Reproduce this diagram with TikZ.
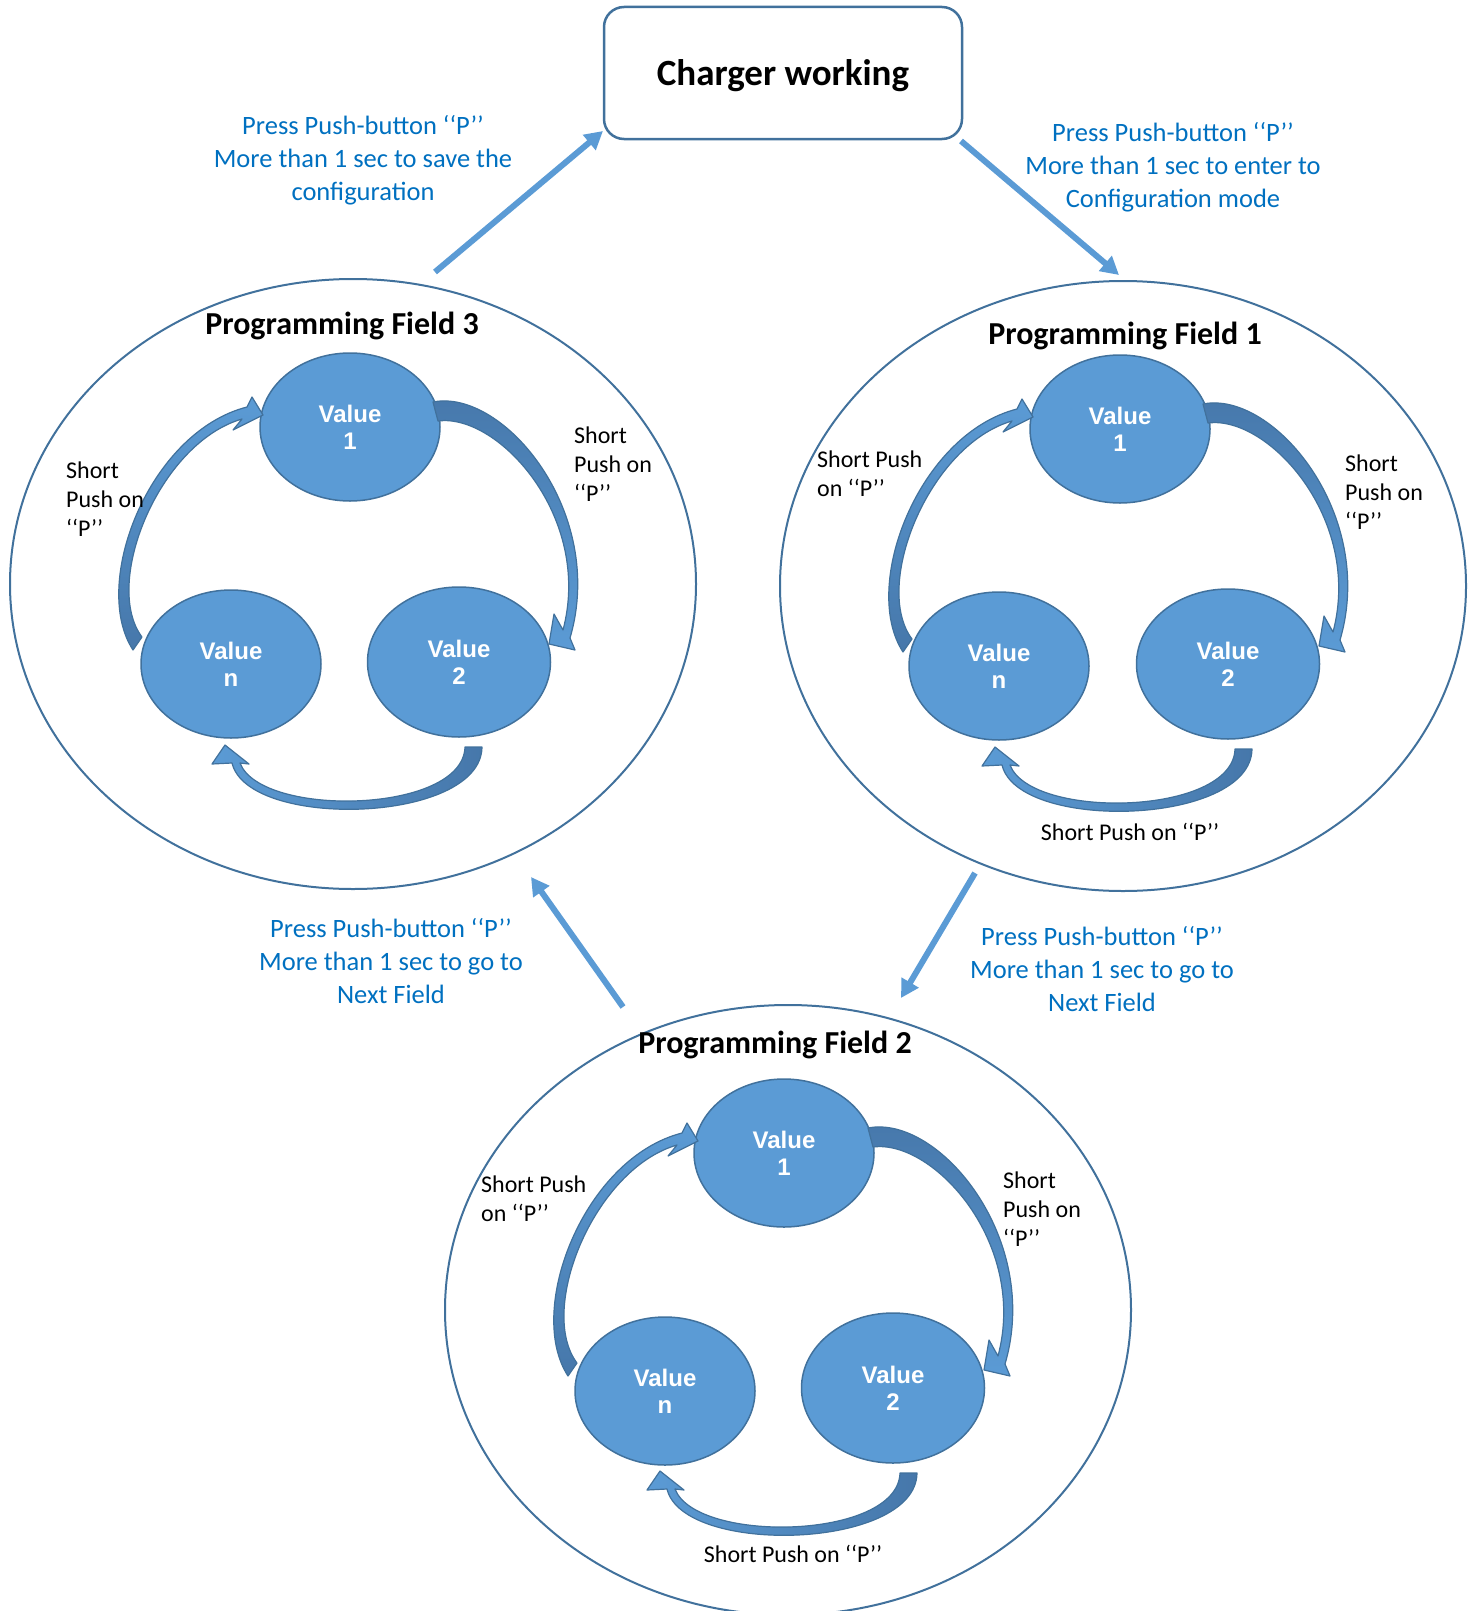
\documentclass[tikz,border=0pt]{standalone}
\usepackage{fontspec}
\setmainfont{Carlito}
\newfontfamily\valfont{Liberation Sans}
\usetikzlibrary{shapes.geometric,arrows.meta}
\definecolor{clight}{HTML}{5B9BD5}
\definecolor{cdark}{HTML}{41719C}
\definecolor{cblue}{HTML}{0070C0}
\definecolor{cband}{HTML}{4677AA}
\tikzset{
  field/.style={ellipse, draw=cdark, line width=2pt, minimum width=686pt, minimum height=610pt, inner sep=0pt},
  val/.style={ellipse, fill=clight, draw=cdark, line width=1.5pt, minimum width=180pt, minimum height=148pt, inner sep=0pt, text=white, align=center, font=\valfont\bfseries\fontsize{24pt}{27pt}\selectfont},
  ftitle/.style={font=\bfseries\fontsize{32pt}{38pt}\selectfont, inner sep=0pt},
  bluetxt/.style={text=cblue, align=center, inner sep=0pt, font=\fontsize{26.5pt}{33pt}\selectfont},
  smalltxt/.style={align=left, inner sep=0pt, font=\fontsize{24pt}{29pt}\selectfont},
  bigarrow/.style={draw=clight, line width=6pt, -{Triangle[length=18pt,width=19pt]}},
  carrow/.style={draw=cdark, line width=1.2pt, line join=round},
  chargerbox/.style={draw=cdark, line width=2.5pt, rounded corners=20pt, minimum width=358pt, minimum height=132pt, inner sep=0pt, text depth=0pt, font=\bfseries\fontsize{37pt}{43pt}\selectfont}
}
\newcommand\curls{%
  % left: Value n -> Value 1
  \path[carrow, top color=clight, bottom color=cband]
    (-211,53) -- (-220,66) .. controls (-263,0) and (-204,-152) .. (-106,-177)
    -- (-101,-187) -- (-90,-169) -- (-120,-154) -- (-111,-165)
    .. controls (-194,-141) and (-251,0) .. (-211,53) -- cycle;
  % right: Value 1 -> Value 2
  \path[carrow, top color=cband, bottom color=clight]
    (85,-163) -- (80,-182) .. controls (150,-196) and (254,-72) .. (217,54)
    -- (222,66) -- (196,60) -- (201,30) -- (210,46)
    .. controls (240,-67) and (145,-171) .. (85,-163) -- cycle;
  % bottom: Value 2 -> Value n
  \path[carrow, left color=clight, right color=cband]
    (112,163) -- (129,163) .. controls (128,240) and (-105,246) .. (-121,179)
    -- (-141,180) -- (-128,161) -- (-104,180) -- (-113,179)
    .. controls (-92,234) and (110,230) .. (112,163) -- cycle;
}
\begin{document}
\begin{tikzpicture}[x=1pt, y=-1pt]
\useasboundingbox (0,0) rectangle (1478,1611);

% top box
\node[chargerbox] (charger) at (783,73) {Charger working};

% fields
\node[field] (f3) at (353,584) {};
\node[field] (f1) at (1123,586) {};
\node[field] (f2) at (788,1310) {};

% titles
\node[ftitle] (t3) at (342,326) {Programming Field 3};
\node[ftitle] (t1) at (1125,336) {Programming Field 1};
\node[ftitle] (t2) at (775,1045) {Programming Field 2};

% value nodes field 3
\node[val] (f3v1) at (350,427) {Value\\1};
\node[val] (f3vn) at (231,664) {Value\\n};
\node[val, minimum width=183pt, minimum height=150pt] (f3v2) at (459,662) {Value\\2};
% field 1
\node[val] (f1v1) at (1120,429) {Value\\1};
\node[val] (f1vn) at (999,666) {Value\\n};
\node[val, minimum width=183pt, minimum height=150pt] (f1v2) at (1228,664) {Value\\2};
% field 2
\node[val] (f2v1) at (784,1153) {Value\\1};
\node[val] (f2vn) at (665,1391) {Value\\n};
\node[val, minimum width=183pt, minimum height=150pt] (f2v2) at (893,1388) {Value\\2};

% curved arrows
\begin{scope}[shift={(353,584)}]\curls\end{scope}
\begin{scope}[shift={(1123,586)}]\curls\end{scope}
\begin{scope}[shift={(788,1310)}]\curls\end{scope}

% short push labels
\node[smalltxt, anchor=west] (l3a) at (66,499) {Short\\Push on\\‘‘P’’};
\node[smalltxt, anchor=west] (l3b) at (574,464) {Short\\Push on\\‘‘P’’};
\node[smalltxt, anchor=west] (l1a) at (817,474) {Short Push\\on ‘‘P’’};
\node[smalltxt, anchor=west] (l1b) at (1345,492) {Short\\Push on\\‘‘P’’};
\node[smalltxt] (l1c) at (1130,832) {Short Push on ‘‘P’’};
\node[smalltxt, anchor=west] (l2a) at (481,1199) {Short Push\\on ‘‘P’’};
\node[smalltxt, anchor=west] (l2b) at (1003,1209) {Short\\Push on\\‘‘P’’};
\node[smalltxt] (l2c) at (793,1554) {Short Push on ‘‘P’’};

% blue texts
\node[bluetxt] (b1) at (363,160) {Press Push-button ‘‘P’’\\More than 1 sec to save the\\configuration};
\node[bluetxt] (b2) at (1173,167) {Press Push-button ‘‘P’’\\More than 1 sec to enter to\\Configuration mode};
\node[bluetxt] (b3) at (391,961) {Press Push-button ‘‘P’’\\More than 1 sec to go to\\Next Field};
\node[bluetxt] (b4) at (1102,969) {Press Push-button ‘‘P’’\\More than 1 sec to go to\\Next Field};

% straight arrows
\coordinate (a1s) at (435,272);
\coordinate (a1e) at (603,131);
\coordinate (a2s) at (961,141);
\coordinate (a2e) at (1119,275);
\coordinate (a3s) at (975,873);
\coordinate (a3e) at (901,998);
\coordinate (a4s) at (623,1007);
\coordinate (a4e) at (531,877);
\draw[bigarrow] (a1s) -- (a1e);
\draw[bigarrow] (a2s) -- (a2e);
\draw[bigarrow] (a3s) -- (a3e);
\draw[bigarrow] (a4s) -- (a4e);
\end{tikzpicture}
\end{document}
